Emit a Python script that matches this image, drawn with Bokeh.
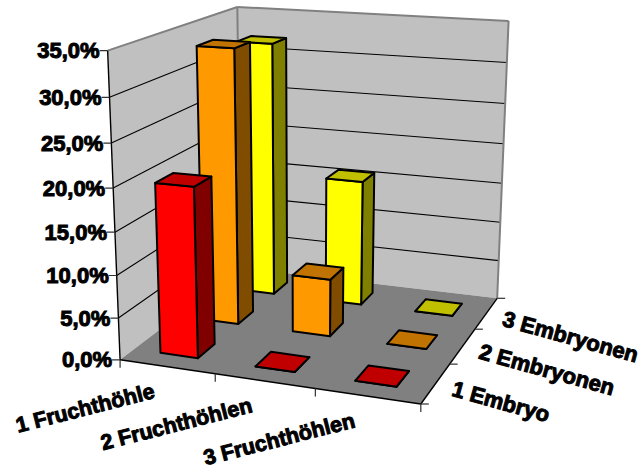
import numpy as np
from bokeh.core.properties import value
from bokeh.embed import file_html
from bokeh.models import Range1d
from bokeh.plotting import figure
from bokeh.resources import INLINE

# Chart content
categories = ["1 Fruchthöhle", "2 Fruchthöhlen", "3 Fruchthöhlen"]
series_names = ["1 Embryo", "2 Embryonen", "3 Embryonen"]
embryo_1 = [20.0, 0.0, 0.0]
embryo_2 = [33.3, 7.0, 0.0]
embryo_3 = [32.0, 15.8, 0.0]
value_ticks = [0, 5, 10, 15, 20, 25, 30, 35]

front_colors = ["#FF0000", "#FF9900", "#FFFF00"]
top_colors = ["#C00000", "#C07300", "#C0C000"]
side_colors = ["#800000", "#804C00", "#808000"]

WIDTH, HEIGHT = 643, 470
Z_MAX = 35.0

# Frame corners of the 3D box: (category, depth, value) -> page position.
frame_world = [(0, 0, 0), (3, 0, 0), (3, 3, 0), (0, 3, 0), (0, 0, 35), (0, 3, 35), (3, 3, 35)]
frame_page = [(120, 358), (420, 405), (497, 296), (240, 269), (107, 50), (237, 6), (508, 21)]


def fit_camera(world, page):
    """Least-squares projective camera (direct linear transform)."""
    rows, rhs = [], []
    for (x, y, z), (u, v) in zip(world, page):
        rows.append([x, y, z, 1, 0, 0, 0, 0, -u * x, -u * y, -u * z])
        rhs.append(u)
        rows.append([0, 0, 0, 0, x, y, z, 1, -v * x, -v * y, -v * z])
        rhs.append(v)
    sol = np.linalg.lstsq(np.array(rows, float), np.array(rhs, float), rcond=None)[0]
    return np.append(sol, 1.0).reshape(3, 4)


CAMERA = fit_camera(frame_world, frame_page)


def project(x, y, z):
    h = CAMERA @ np.array([x, y, z, 1.0])
    return float(h[0] / h[2]), float(h[1] / h[2])


def quad(*corners):
    pts = [project(*c) for c in corners]
    return [p[0] for p in pts], [p[1] for p in pts]


p = figure(
    width=WIDTH, height=HEIGHT, output_backend="svg", toolbar_location=None,
    x_range=Range1d(0, WIDTH), y_range=Range1d(HEIGHT, 0),
    x_axis_type=None, y_axis_type=None, min_border=0,
    outline_line_color=None, background_fill_color="white",
)
p.grid.visible = False


def add_quads(quads, fill, line="black", width=2.0):
    xs = [q[0] for q in quads]
    ys = [q[1] for q in quads]
    p.patches(xs, ys, fill_color=fill, line_color=line, line_width=width, line_join="round")


def add_lines(segments, color, width):
    xs = [[project(*a)[0], project(*b)[0]] for a, b in segments]
    ys = [[project(*a)[1], project(*b)[1]] for a, b in segments]
    p.multi_line(xs, ys, line_color=color, line_width=width)


# Walls and floor
add_quads([quad((0, 0, 0), (0, 3, 0), (0, 3, Z_MAX), (0, 0, Z_MAX)),
           quad((0, 3, 0), (3, 3, 0), (3, 3, Z_MAX), (0, 3, Z_MAX))], "#C0C0C0", None, 0)
add_quads([quad((0, 0, 0), (3, 0, 0), (3, 3, 0), (0, 3, 0))], "#808080", None, 0)

# Gridlines on both walls
grid = []
for t in value_ticks[1:-1]:
    grid.append(((0, 0, t), (0, 3, t)))
    grid.append(((0, 3, t), (3, 3, t)))
add_lines(grid, "#000000", 1.1)

# Wall outlines
add_lines([((0, 0, Z_MAX), (0, 3, Z_MAX)), ((0, 3, Z_MAX), (3, 3, Z_MAX)),
           ((0, 3, 0), (0, 3, Z_MAX)), ((3, 3, 0), (3, 3, Z_MAX))], "#808080", 2.0)

# Axis lines on the front edges
add_lines([((0, 0, 0), (0, 0, Z_MAX)), ((0, 0, 0), (3, 0, 0)), ((3, 0, 0), (3, 3, 0))], "#000000", 1.4)

# Tick marks
tick_xs, tick_ys = [], []
for t in value_ticks:
    u, v = project(0, 0, t)
    tick_xs.append([u - 8, u])
    tick_ys.append([v, v])
for i in range(len(categories) + 1):
    u, v = project(i, 0, 0)
    tick_xs.append([u, u])
    tick_ys.append([v, v + 8])
for j in range(len(series_names) + 1):
    u, v = project(3, j, 0)
    tick_xs.append([u, u + 8])
    tick_ys.append([v, v])
p.multi_line(tick_xs, tick_ys, line_color="#303030", line_width=1.2)

# Bars, back row first and left to right inside a row
rows = [embryo_1, embryo_2, embryo_3]
for j in reversed(range(len(rows))):
    for i, val in enumerate(rows[j]):
        x0, x1 = i + 0.285, i + 0.685
        y0, y1 = j + 0.3, j + 0.7
        add_quads([quad((x1, y0, 0), (x1, y1, 0), (x1, y1, val), (x1, y0, val))], side_colors[j])
        add_quads([quad((x0, y0, 0), (x1, y0, 0), (x1, y0, val), (x0, y0, val))], front_colors[j])
        add_quads([quad((x0, y0, val), (x1, y0, val), (x1, y1, val), (x0, y1, val))], top_colors[j])

FONT = value("Liberation Sans")
LABEL_STYLE = dict(text_font=FONT, text_font_style="bold", text_color="black",
                   text_outline_color="black", text_baseline="middle")

# Value axis labels
lx, ly = [], []
for t in value_ticks:
    u, v = project(0, 0, t)
    lx.append(u - 8)
    ly.append(v)
p.text(lx, ly, text=[f"{t:.1f}%".replace(".", ",") for t in value_ticks],
       text_font_size="22px", text_align="right", **LABEL_STYLE)

# Category labels, rotated along the floor edge
cx, cy = [], []
for i in range(len(categories)):
    u, v = project(i + 0.5, 0, 0)
    cx.append(u - 13)
    cy.append(v + 24)
p.text(cx, cy, text=categories, angle=0.25, text_font_size="21.5px", text_align="right", **LABEL_STYLE)

# Depth labels
dx, dy = [], []
for j in range(len(series_names)):
    u, v = project(3, j + 0.5, 0)
    dx.append(u + 17)
    dy.append(v + 5)
p.text(dx, dy, text=series_names, angle=-0.27, text_font_size="22px", text_align="left", **LABEL_STYLE)

open("out.html", "w").write(file_html(p, INLINE))
